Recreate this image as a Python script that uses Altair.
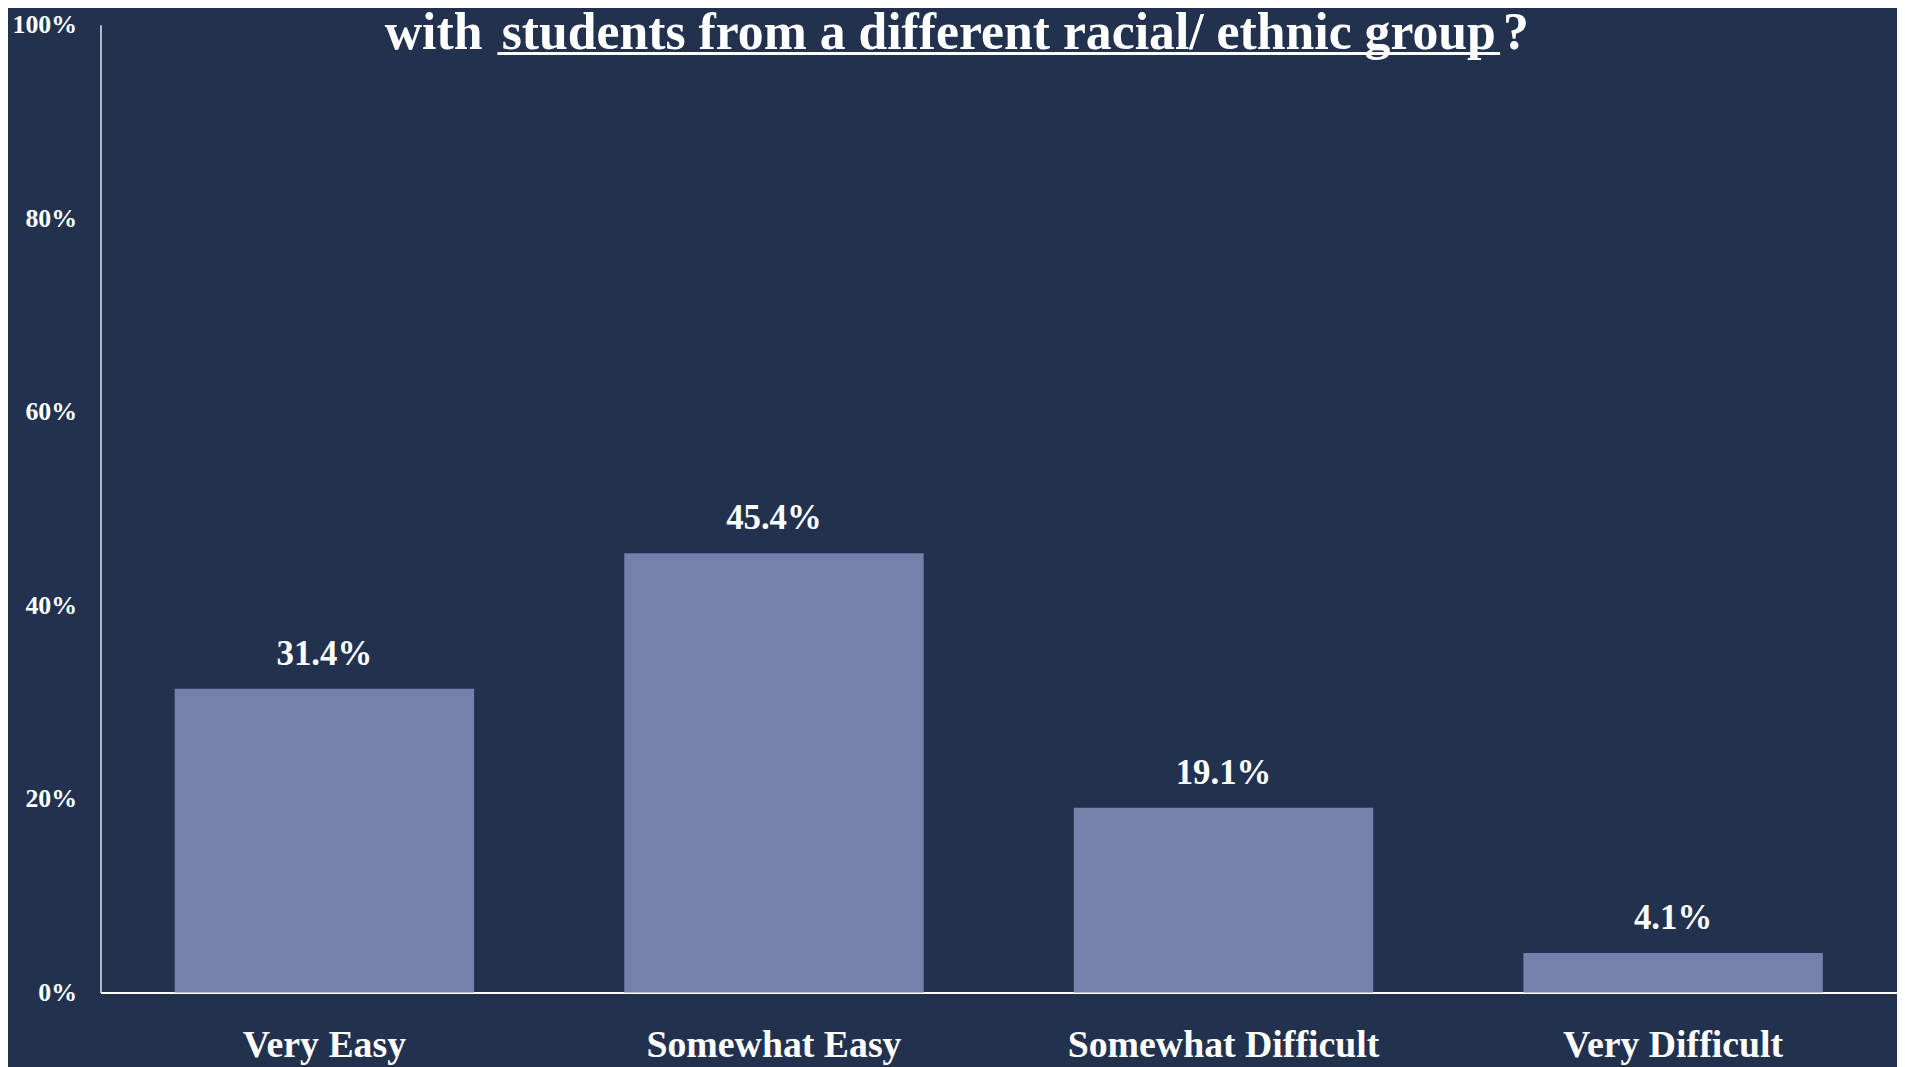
import altair as alt
import pandas as pd

categories = ["Very Easy", "Somewhat Easy", "Somewhat Difficult", "Very Difficult"]
values = [31.4, 45.4, 19.1, 4.1]
value_labels = ["31.4%", "45.4%", "19.1%", "4.1%"]
y_ticks = [0, 20, 40, 60, 80, 100]
title_before = ["with"]
title_underlined = ["students from a different racial/ ethnic group"]
title_after = ["?"]

BG = "#22324E"
BAR = "#7580AD"
FG = "#FFFFFF"
FONT = "Liberation Serif"

df = pd.DataFrame({"category": categories, "value": values, "label": value_labels})

base = alt.Chart(df)

bars = base.mark_bar(color=BAR).encode(
    x=alt.X(
        "category:N",
        sort=categories,
        title=None,
        scale=alt.Scale(paddingInner=0.334, paddingOuter=0.165),
        axis=alt.Axis(
            labelAngle=0,
            labelFont=FONT,
            labelFontSize=38,
            labelFontWeight="bold",
            labelColor=FG,
            labelPadding=34,
            labelLimit=0,
            ticks=False,
            domainColor=FG,
            domainWidth=2,
            grid=False,
        ),
    ),
    y=alt.Y(
        "value:Q",
        title=None,
        scale=alt.Scale(domain=[0, 100], nice=False),
        axis=alt.Axis(
            values=y_ticks,
            labelExpr="datum.value + '%'",
            labelFont=FONT,
            labelFontSize=26,
            labelFontWeight="bold",
            labelColor=FG,
            labelPadding=24,
            ticks=False,
            domainColor="#E6E6E6",
            domainWidth=1.5,
            grid=False,
        ),
    ),
)

texts = base.mark_text(
    font=FONT, fontSize=35, fontWeight="bold", color=FG,
    baseline="alphabetic", dy=-24,
).encode(
    x=alt.X("category:N", sort=categories),
    y=alt.Y("value:Q"),
    text="label:N",
)

TY = 24
TS = 52
t1 = alt.Chart(pd.DataFrame({"t": title_before})).mark_text(
    font=FONT, fontSize=TS, fontWeight="bold", color=FG,
    align="right", baseline="alphabetic",
).encode(x=alt.value(384), y=alt.value(TY), text="t:N")

t2 = alt.Chart(pd.DataFrame({"t": title_underlined})).mark_text(
    font=FONT, fontSize=TS, fontWeight="bold", color=FG,
    align="center", baseline="alphabetic",
).encode(x=alt.value(903), y=alt.value(TY), text="t:N")

t3 = alt.Chart(pd.DataFrame({"t": title_after})).mark_text(
    font=FONT, fontSize=TS, fontWeight="bold", color=FG,
    align="left", baseline="alphabetic",
).encode(x=alt.value(1410), y=alt.value(TY), text="t:N")

underline = alt.Chart(pd.DataFrame({"t": title_underlined})).mark_rule(
    color=FG, strokeWidth=3
).encode(x=alt.value(399), x2=alt.value(1407), y=alt.value(TY + 5))

chart = alt.layer(bars, texts, t1, t2, t3, underline).properties(
    width=1806,
    height=973,
    background=BG,
    autosize=alt.AutoSizeParams(type="none"),
    padding={"left": 93, "top": 14, "right": 0, "bottom": 72},
).configure_view(stroke=None)

chart.save("out.html", embed_options={"renderer": "svg", "actions": False})
